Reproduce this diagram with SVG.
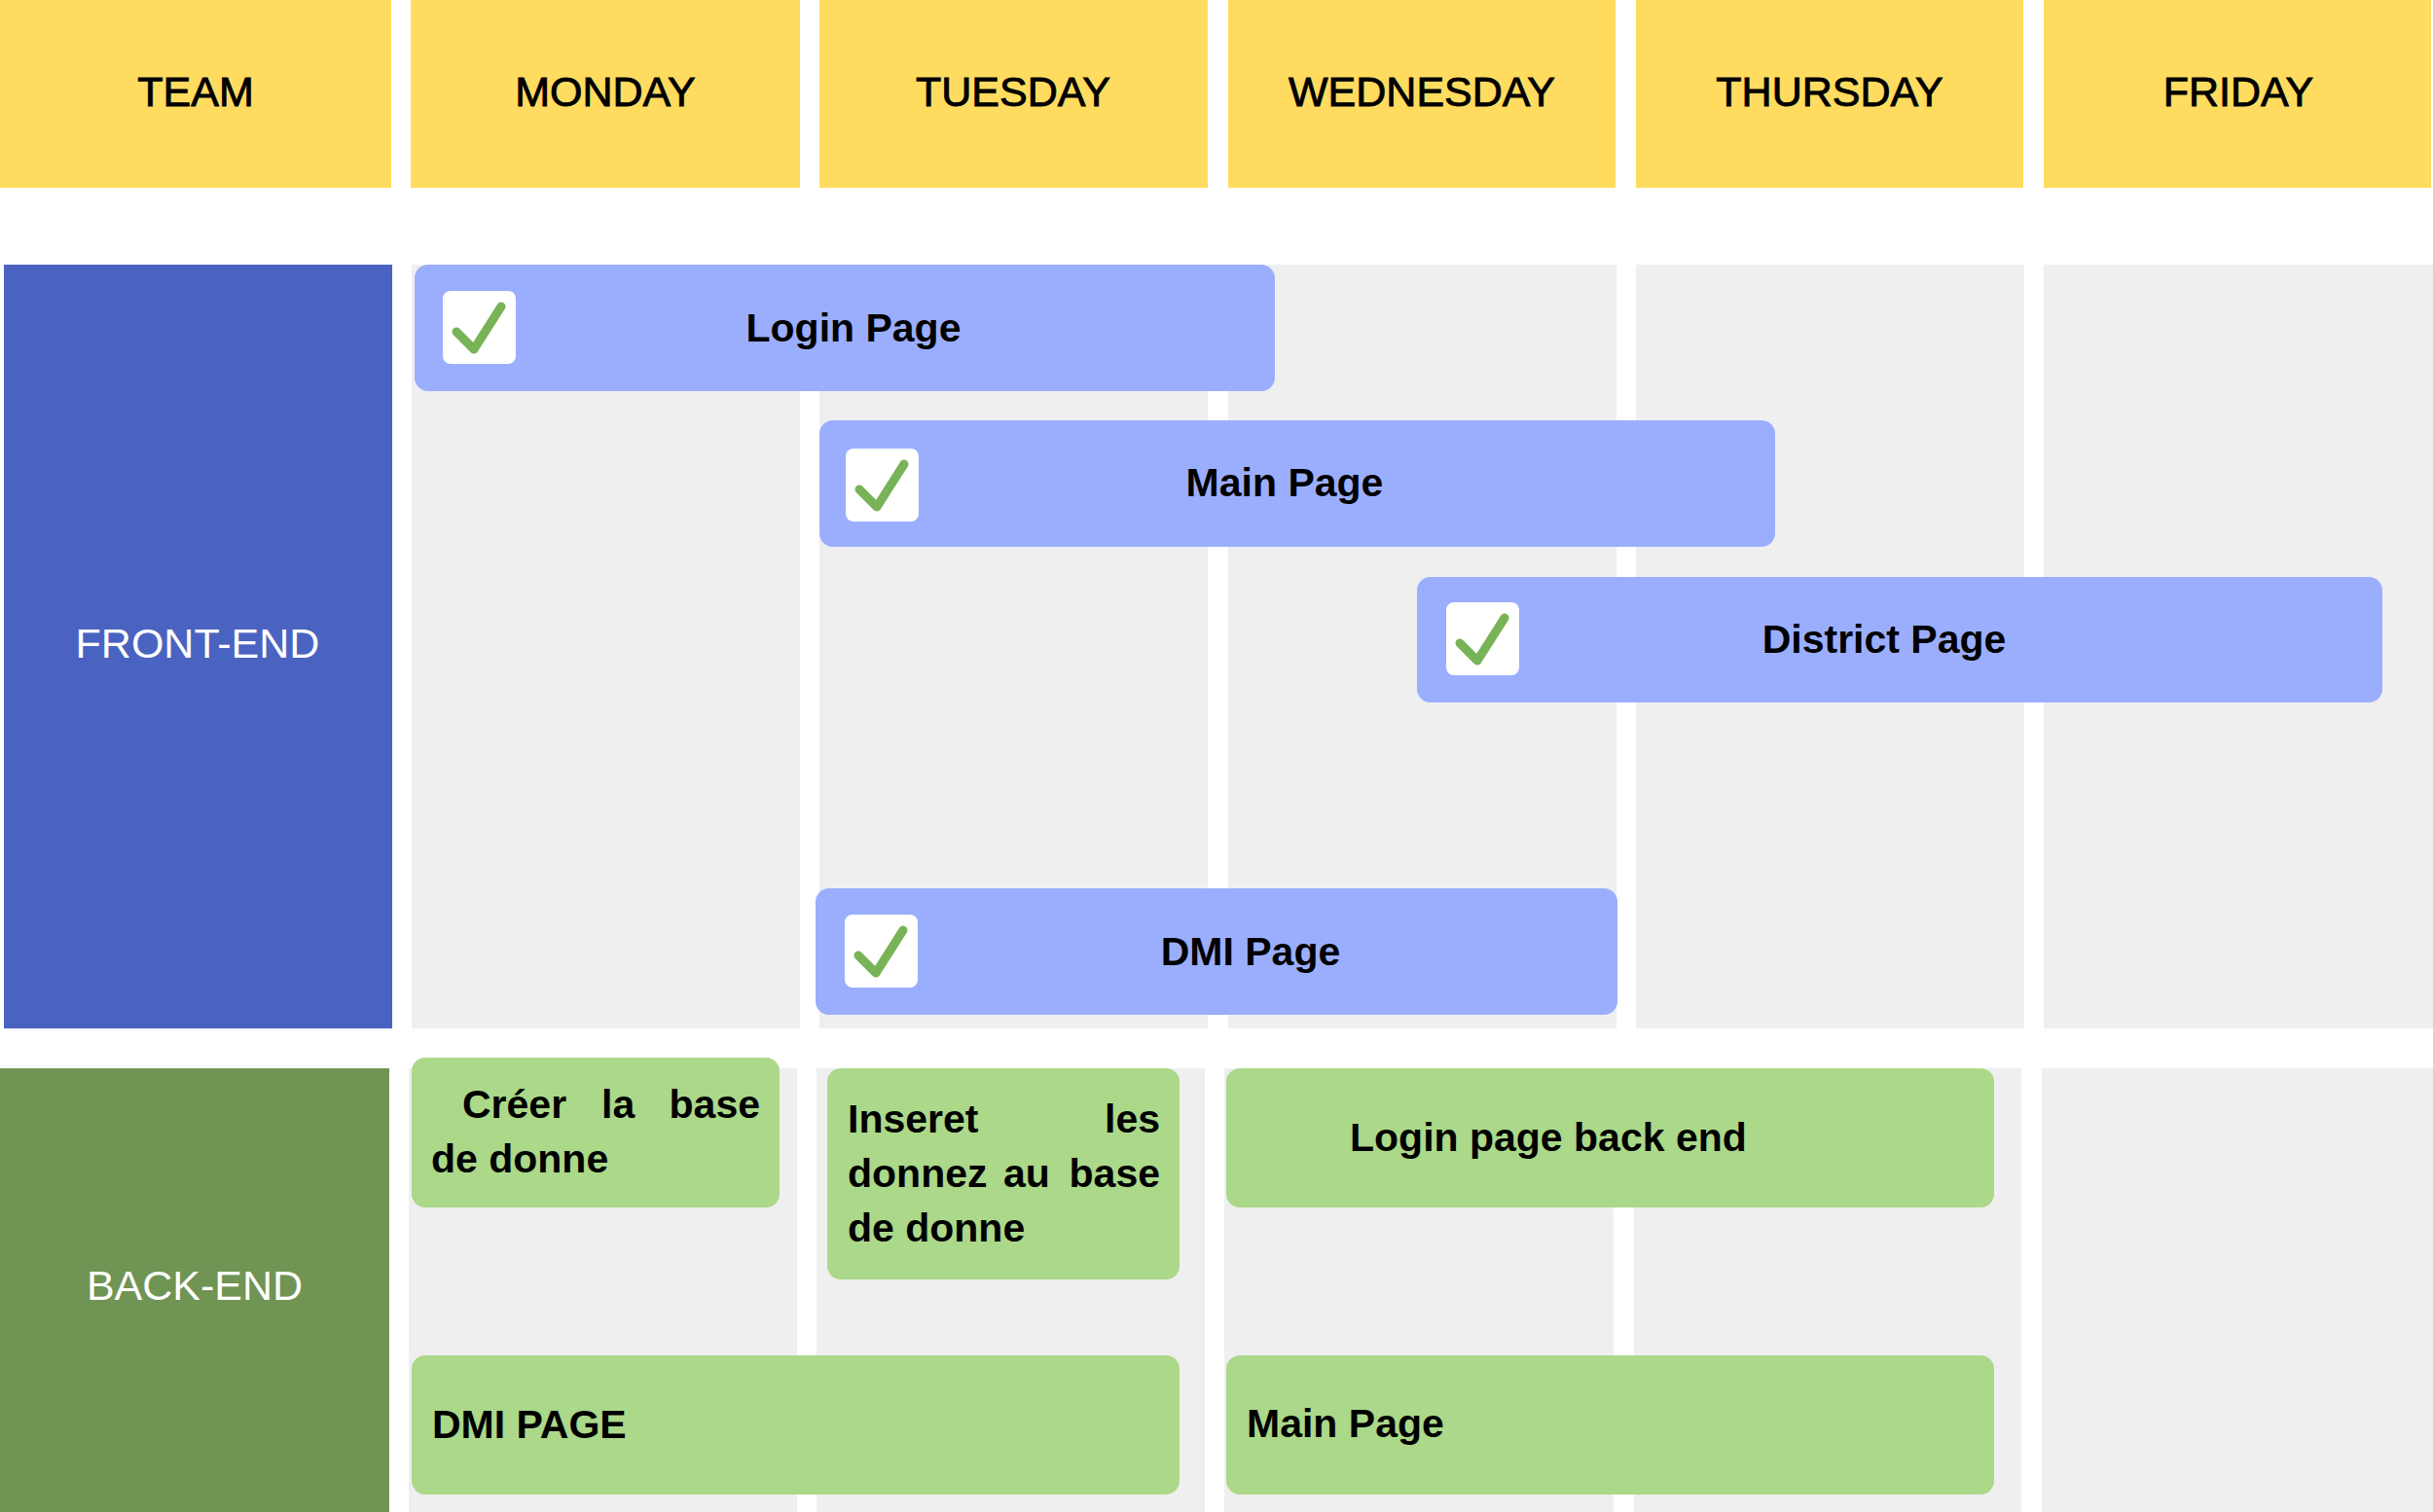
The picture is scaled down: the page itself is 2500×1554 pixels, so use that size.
<svg xmlns="http://www.w3.org/2000/svg" xmlns:xlink="http://www.w3.org/1999/xlink" width="2500" height="1554" viewBox="0 0 2500 1554">
  <style>
    .hdr { fill: #FFDC60; }
    .hdr-t { font-family: "Liberation Sans", Arial, sans-serif; font-size: 43px; fill: #000; stroke: #000; stroke-width: 0.9px; text-anchor: middle; }
    .lane { fill: #EFEFEF; }
    .team-t { font-family: "Liberation Sans", Arial, sans-serif; font-size: 43px; fill: #FFFFFF; text-anchor: middle; }
    .fe { fill: #9BAEFE; }
    .be { fill: #ABD889; }
    .task-t { font-family: "Liberation Sans", Arial, sans-serif; font-weight: bold; font-size: 41px; fill: #000; }
    .mid { text-anchor: middle; }
    .end { text-anchor: end; }
  </style>
  <defs>
    <g id="checkbox">
      <rect x="0" y="0" width="75" height="75" rx="8" fill="#FFFFFF"/>
      <path d="M14 42 L32 60 L60 16" fill="none" stroke="#79B357" stroke-width="9" stroke-linecap="round" stroke-linejoin="round"/>
    </g>
  </defs>

  <rect x="0" y="0" width="2500" height="1554" fill="#FFFFFF"/>

  <!-- header row -->
  <g id="header-team"><rect class="hdr" x="0" y="0" width="402" height="193"/><text class="hdr-t" x="201" y="109">TEAM</text></g>
  <g id="header-monday"><rect class="hdr" x="422" y="0" width="400" height="193"/><text class="hdr-t" x="622" y="109">MONDAY</text></g>
  <g id="header-tuesday"><rect class="hdr" x="842" y="0" width="399" height="193"/><text class="hdr-t" x="1041" y="109">TUESDAY</text></g>
  <g id="header-wednesday"><rect class="hdr" x="1262" y="0" width="398" height="193"/><text class="hdr-t" x="1461" y="109">WEDNESDAY</text></g>
  <g id="header-thursday"><rect class="hdr" x="1681" y="0" width="398" height="193"/><text class="hdr-t" x="1880" y="109">THURSDAY</text></g>
  <g id="header-friday"><rect class="hdr" x="2100" y="0" width="398" height="193"/><text class="hdr-t" x="2300" y="109">FRIDAY</text></g>

  <!-- day lanes, front-end row -->
  <g id="lanes-front">
    <rect class="lane" x="423" y="272" width="399" height="785"/>
    <rect class="lane" x="842" y="272" width="399" height="785"/>
    <rect class="lane" x="1262" y="272" width="399" height="785"/>
    <rect class="lane" x="1681" y="272" width="399" height="785"/>
    <rect class="lane" x="2100" y="272" width="400" height="785"/>
  </g>
  <!-- day lanes, back-end row -->
  <g id="lanes-back">
    <rect class="lane" x="420" y="1098" width="399" height="456"/>
    <rect class="lane" x="839" y="1098" width="399" height="456"/>
    <rect class="lane" x="1258" y="1098" width="400" height="456"/>
    <rect class="lane" x="1679" y="1098" width="398" height="456"/>
    <rect class="lane" x="2098" y="1098" width="402" height="456"/>
  </g>

  <!-- team labels -->
  <g id="team-front-end"><rect x="4" y="272" width="399" height="785" fill="#4A63C1"/><text class="team-t" x="203" y="676">FRONT-END</text></g>
  <g id="team-back-end"><rect x="0" y="1098" width="400" height="456" fill="#709453"/><text class="team-t" x="200" y="1336">BACK-END</text></g>

  <!-- front-end tasks -->
  <g id="task-login-page">
    <rect class="fe" x="426" y="272" width="884" height="130" rx="14"/>
    <use xlink:href="#checkbox" x="455" y="299"/>
    <text class="task-t mid" x="877" y="351">Login Page</text>
  </g>
  <g id="task-main-page">
    <rect class="fe" x="842" y="432" width="982" height="130" rx="14"/>
    <use xlink:href="#checkbox" x="869" y="461"/>
    <text class="task-t mid" x="1320" y="510">Main Page</text>
  </g>
  <g id="task-district-page">
    <rect class="fe" x="1456" y="593" width="992" height="129" rx="14"/>
    <use xlink:href="#checkbox" x="1486" y="619"/>
    <text class="task-t mid" x="1936" y="671">District Page</text>
  </g>
  <g id="task-dmi-page">
    <rect class="fe" x="838" y="913" width="824" height="130" rx="14"/>
    <use xlink:href="#checkbox" x="868" y="940"/>
    <text class="task-t mid" x="1285" y="992">DMI Page</text>
  </g>

  <!-- back-end tasks -->
  <g id="task-creer-base">
    <rect class="be" x="423" y="1087" width="378" height="154" rx="14"/>
    <text class="task-t" x="475" y="1149">Créer</text>
    <text class="task-t" x="618" y="1149">la</text>
    <text class="task-t end" x="781" y="1149">base</text>
    <text class="task-t" x="443" y="1205">de donne</text>
  </g>
  <g id="task-inserer-donnees">
    <rect class="be" x="850" y="1098" width="362" height="217" rx="14"/>
    <text class="task-t" x="871" y="1164">Inseret</text>
    <text class="task-t end" x="1192" y="1164">les</text>
    <text class="task-t" x="871" y="1220">donnez</text>
    <text class="task-t" x="1031" y="1220">au</text>
    <text class="task-t end" x="1192" y="1220">base</text>
    <text class="task-t" x="871" y="1276">de donne</text>
  </g>
  <g id="task-login-back-end">
    <rect class="be" x="1260" y="1098" width="789" height="143" rx="14"/>
    <text class="task-t" x="1387" y="1183">Login page back end</text>
  </g>
  <g id="task-dmi-back">
    <rect class="be" x="423" y="1393" width="789" height="143" rx="14"/>
    <text class="task-t" x="444" y="1478">DMI PAGE</text>
  </g>
  <g id="task-main-back">
    <rect class="be" x="1260" y="1393" width="789" height="143" rx="14"/>
    <text class="task-t" x="1281" y="1477">Main Page</text>
  </g>
</svg>
